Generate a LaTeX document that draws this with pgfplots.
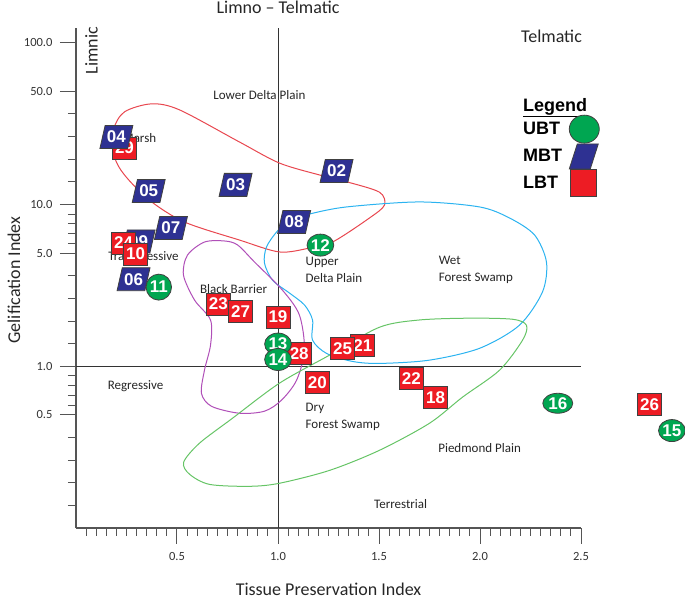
\documentclass[border=0pt]{standalone}
\usepackage{fontspec}
\setmainfont{Carlito}
\newfontfamily\arialfont{Liberation Sans}
\usepackage{pgfplots}
\pgfplotsset{compat=1.18}
\usetikzlibrary{shapes.geometric}
\definecolor{ubt}{HTML}{00A651}
\definecolor{mbt}{HTML}{2E3192}
\definecolor{lbt}{HTML}{ED1C24}
\definecolor{cred}{HTML}{E8474F}
\definecolor{cblue}{HTML}{2BB3F0}
\definecolor{cpurple}{HTML}{B04FB8}
\definecolor{cgreen}{HTML}{66C466}
\definecolor{axgray}{HTML}{555555}
\definecolor{edge}{HTML}{404040}
\tikzset{
  lab/.style={font=\arialfont\bfseries\fontsize{17}{17}\selectfont, text=white, inner sep=0pt, draw=black!75, line width=0.8pt},
  sq/.style={lab, rectangle, fill=lbt, minimum width=24pt, minimum height=22pt},
  pg/.style={lab, trapezium, trapezium left angle=70, trapezium right angle=110, trapezium stretches=true, fill=mbt, minimum width=33pt, minimum height=23pt},
  el/.style={lab, ellipse, fill=ubt, minimum width=23pt, minimum height=22pt},
  ann/.style={font=\fontsize{13}{15}\selectfont, text=black!85, inner sep=0pt},
  big/.style={font=\fontsize{18}{20}\selectfont, text=black!85, inner sep=0pt},
}
\begin{document}
\begin{tikzpicture}
\useasboundingbox (-76pt,-68pt) rectangle (609pt,528pt);
\begin{axis}[
  scale only axis, width=505pt, height=500pt,
  xmin=0, xmax=2.5, ymin=0.1, ymax=123, ymode=log,
  axis x line*=bottom, axis y line*=left,
  axis line style={axgray, line width=1.2pt},
  clip=false,
  tick align=outside,
  major tick length=16pt, minor tick length=8pt,
  tick style={axgray, line width=1pt},
  xtick={0.5,1,1.5,2,2.5},
  xticklabels={0.5,1.0,1.5,2.0,2.5},
  minor xtick={0.05,0.1,0.15,0.2,0.25,0.3,0.35,0.4,0.45,0.55,0.6,0.65,0.7,0.75,0.8,0.85,0.9,0.95,1.05,1.1,1.15,1.2,1.25,1.3,1.35,1.4,1.45,1.55,1.6,1.65,1.7,1.75,1.8,1.85,1.9,1.95,2.05,2.1,2.15,2.2,2.25,2.3,2.35,2.4,2.45},
  ytick={0.5,1,5,10,50,100},
  yticklabels={0.5,1.0,5.0,10.0,50.0,100.0},
  minor ytick={0.138,0.19,0.263,0.362,0.574,0.66,0.758,0.87,1.38,1.9,2.63,3.62,5.74,6.6,7.58,8.7,13.8,19.0,26.3,36.2},
  /pgf/number format/assume math mode=true,
  tick label style={font=\fontsize{12.5}{14}\selectfont, text=black!80},
  yticklabel style={xshift=-4pt},
  xticklabel style={yshift=-5pt},
  xlabel={Tissue Preservation Index},
  ylabel={Gelification Index},
  label style={font=\fontsize{18}{20}\selectfont, text=black!85},
  xlabel style={at={(axis description cs:0.5,0)}, anchor=base, yshift=-67pt},
  ylabel style={at={(axis description cs:0,0.5)}, anchor=center, yshift=62pt, xshift=-2pt},
  legend plot pos=right,
  legend style={at={(rel axis cs:0.881,0.864)}, anchor=north west, draw=none, fill=none, inner sep=0pt,
    font=\arialfont\bfseries\fontsize{18}{18}\selectfont, cells={anchor=west}, row sep=0pt},
]
% reference lines
\addplot[black!80, line width=0.9pt, forget plot] coordinates {(0,1) (2.5,1)};
\addplot[black!80, line width=0.9pt, forget plot] coordinates {(1,0.1) (1,123)};
% envelopes
\addplot[cred, line width=1pt, smooth cycle, forget plot] coordinates {
(0.374,41.8) (0.512,38.4) (0.809,24.3) (1.007,18.0) (1.205,15.2) (1.339,13.8) (1.502,11.9) (1.527,9.9) (1.453,8.24) (1.270,5.85) (1.156,5.37) (1.007,5.08) (0.809,6.02) (0.537,7.78) (0.364,10.6) (0.240,15.2) (0.191,19.7) (0.186,28.9) (0.240,37.3)};
\addplot[cblue, line width=1pt, smooth cycle, forget plot] coordinates {
(1.057,8.0) (1.156,8.72) (1.339,9.64) (1.700,10.35) (1.998,9.64) (2.146,8.24) (2.270,6.47) (2.329,4.40) (2.309,2.87) (2.195,1.79) (1.998,1.29) (1.750,1.09) (1.502,1.04) (1.369,1.07) (1.240,1.20) (1.171,1.45) (1.171,1.93) (1.131,2.39) (1.057,2.83) (0.973,3.40) (0.933,4.34) (0.943,5.45) (0.993,6.75)};
\addplot[cpurple, line width=1pt, smooth cycle, forget plot] coordinates {
(0.735,5.94) (0.636,5.85) (0.552,4.86) (0.532,3.66) (0.587,2.56) (0.666,1.93) (0.666,1.35) (0.636,0.945) (0.621,0.68) (0.671,0.565) (0.809,0.512) (0.933,0.527) (1.017,0.616) (1.092,0.819) (1.131,1.256) (1.106,2.07) (1.022,2.95) (0.884,4.40) (0.800,5.61)};
\addplot[cgreen, line width=1pt, smooth cycle, forget plot] coordinates {
(0.533,0.255) (0.562,0.215) (0.661,0.186) (0.859,0.181) (1.007,0.189) (1.255,0.227) (1.502,0.302) (1.750,0.444) (1.913,0.643) (2.097,0.945) (2.211,1.45) (2.230,1.79) (2.161,1.95) (1.948,1.98) (1.700,1.93) (1.502,1.74) (1.255,1.17) (1.007,0.785) (0.775,0.477) (0.611,0.334)};
% annotations
\node[ann] at (axis cs:0.908,47.5) {Lower Delta Plain};
\node[ann] at (axis cs:0.314,25.8) {Marsh};
\node[ann] at (axis cs:0.334,4.73) {Transgressive};
\node[ann] at (axis cs:0.780,2.99) {Black Barrier};
\node[ann, align=left, anchor=west] at (axis cs:1.136,3.96) {Upper\\[2pt]Delta Plain};
\node[ann, align=left, anchor=west] at (axis cs:1.795,3.96) {Wet\\[2pt]Forest Swamp};
\node[ann] at (axis cs:0.295,0.752) {Regressive};
\node[ann, align=left, anchor=west] at (axis cs:1.136,0.487) {Dry\\[2pt]Forest Swamp};
\node[ann] at (axis cs:1.998,0.311) {Piedmond Plain};
\node[ann] at (axis cs:1.607,0.14) {Terrestrial};
\node[big] at (axis cs:2.354,110) {Telmatic};
\node[big, rotate=90] at (axis cs:0.077,89) {Limnic};
\node[big, anchor=base, yshift=14pt] at (axis cs:1,123) {Limno – Telmatic};
% MBT (behind)
\addplot[only marks, mark=none, forget plot, point meta=explicit symbolic, nodes near coords,
  every node near coord/.append style={pg, anchor=center}] table[meta=label] {
x y label
0.36 12.1 05
0.79 13.2 03
1.29 16.1 02
0.47 7.14 07
1.08 7.78 08
0.31 5.9 09
0.285 3.45 06
};
% LBT
\addplot[only marks, mark=none, forget plot, point meta=explicit symbolic, nodes near coords,
  every node near coord/.append style={sq, anchor=center}] table[meta=label] {
x y label
0.24 22.3 29
0.235 5.77 24
0.295 4.93 10
0.705 2.42 23
0.815 2.19 27
1.0 2.01 19
1.105 1.20 28
1.42 1.35 21
1.32 1.29 25
1.195 0.796 20
1.66 0.843 22
1.78 0.643 18
2.84 0.58 26
};
% MBT 04 on top
\addplot[only marks, mark=none, forget plot, point meta=explicit symbolic, nodes near coords,
  every node near coord/.append style={pg, anchor=center}] table[meta=label] {
x y label
0.20 26.1 04
};
% UBT
\addplot[only marks, mark=none, forget plot, point meta=explicit symbolic, nodes near coords,
  every node near coord/.append style={el, anchor=center}] table[meta=label] {
x y label
1.21 5.6 12
1.0 1.37 13
1.0 1.10 14
2.95 0.40 15
};
\addplot[only marks, mark=none, forget plot, point meta=explicit symbolic, nodes near coords,
  every node near coord/.append style={el, minimum width=23pt, minimum height=26pt, anchor=center}] table[meta=label] {
x y label
0.41 3.08 11
};
\addplot[only marks, mark=none, forget plot, point meta=explicit symbolic, nodes near coords,
  every node near coord/.append style={el, minimum width=30pt, minimum height=20pt, anchor=center}] table[meta=label] {
x y label
2.385 0.59 16
};
% legend
\addlegendimage{empty legend}
\addlegendentry{\makebox[0pt][l]{\underline{Legend}}}
\addlegendimage{legend image code/.code={%
  \path (0pt,0pt);%
  \pgfsetfillcolor{ubt}\pgfsetstrokecolor{edge}\pgfsetlinewidth{0.8pt}%
  \pgfpathellipse{\pgfpoint{20pt}{0pt}}{\pgfpoint{15pt}{0pt}}{\pgfpoint{0pt}{14pt}}%
  \pgfusepath{fill,stroke}}}
\addlegendentry{UBT}
\addlegendimage{legend image code/.code={\path (0pt,0pt); \draw[draw=edge, line width=0.8pt, fill=mbt] (5pt,-12.5pt) -- (26pt,-12.5pt) -- (34pt,12.5pt) -- (13pt,12.5pt) -- cycle;}}
\addlegendentry{MBT}
\addlegendimage{legend image code/.code={\path (0pt,0pt); \draw[draw=edge, line width=0.8pt, fill=lbt] (6pt,-13.5pt) rectangle (32pt,13.5pt);}}
\addlegendentry{LBT}
\end{axis}
\end{tikzpicture}
\end{document}
